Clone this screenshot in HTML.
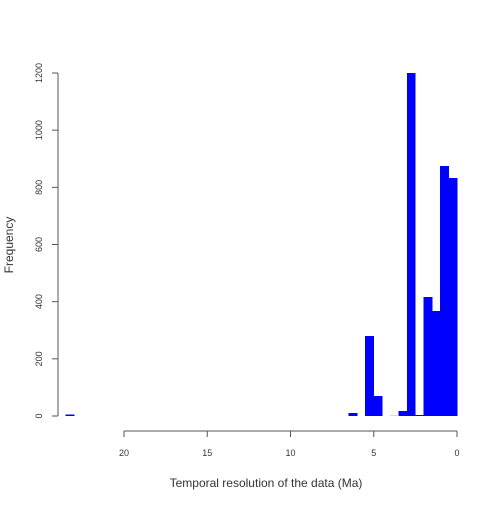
<!DOCTYPE html>
<html><head><meta charset="utf-8"><style>
body{margin:0;background:#fff}
svg text{font-family:"Liberation Sans",sans-serif;fill:#333}
</style></head><body>
<svg width="504" height="504" id="c">
<text x="266" y="487" font-size="12" text-anchor="middle">Temporal resolution of the data (Ma)</text>
<text transform="translate(13,245) rotate(-90)" font-size="12" text-anchor="middle">Frequency</text>
</svg>
<script>
const binStarts=[0,0.5,1,1.5,2,2.5,3,3.5,4.5,5,6,23];
const counts=[833,875,367,416,4,1200,18,1,70,280,10,5];
const xTicks=[20,15,10,5,0];
const yTicks=[0,200,400,600,800,1000,1200];
const binWidth=0.5;
const svg=document.getElementById('c');
const NS='http://www.w3.org/2000/svg';
const X=v=>457-v*16.65;
const Y=v=>416-v*(343/1200);
function mk(t,a){const e=document.createElementNS(NS,t);for(const k in a)e.setAttribute(k,a[k]);svg.appendChild(e);return e;}
binStarts.forEach((b,i)=>{
 const r=mk('rect',{x:X(b+binWidth)-0.3,y:Y(counts[i]),width:X(b)-X(b+binWidth)+0.6,height:Y(0)-Y(counts[i]),fill:counts[i]<2?'#b0b0ff':'#0000ff','shape-rendering':'crispEdges'});
 
 
});
const xa=mk('line',{x1:X(20),x2:X(0),y1:431,y2:431,stroke:'#555'});


xTicks.forEach(t=>{
 mk('line',{x1:X(t),x2:X(t),y1:431,y2:437,stroke:'#555'});
 const tx=mk('text',{x:X(t),y:456,'font-size':9,'text-anchor':'middle'});tx.textContent=t;
 
 
});
const ya=mk('line',{x1:58,x2:58,y1:Y(0),y2:Y(1200),stroke:'#555'});


yTicks.forEach(t=>{
 mk('line',{x1:52,x2:58,y1:Y(t),y2:Y(t),stroke:'#555'});
 const tx=mk('text',{transform:`translate(42,${Y(t)}) rotate(-90)`,'font-size':9,'text-anchor':'middle'});tx.textContent=t;
 
 
});
</script>
</body></html>
